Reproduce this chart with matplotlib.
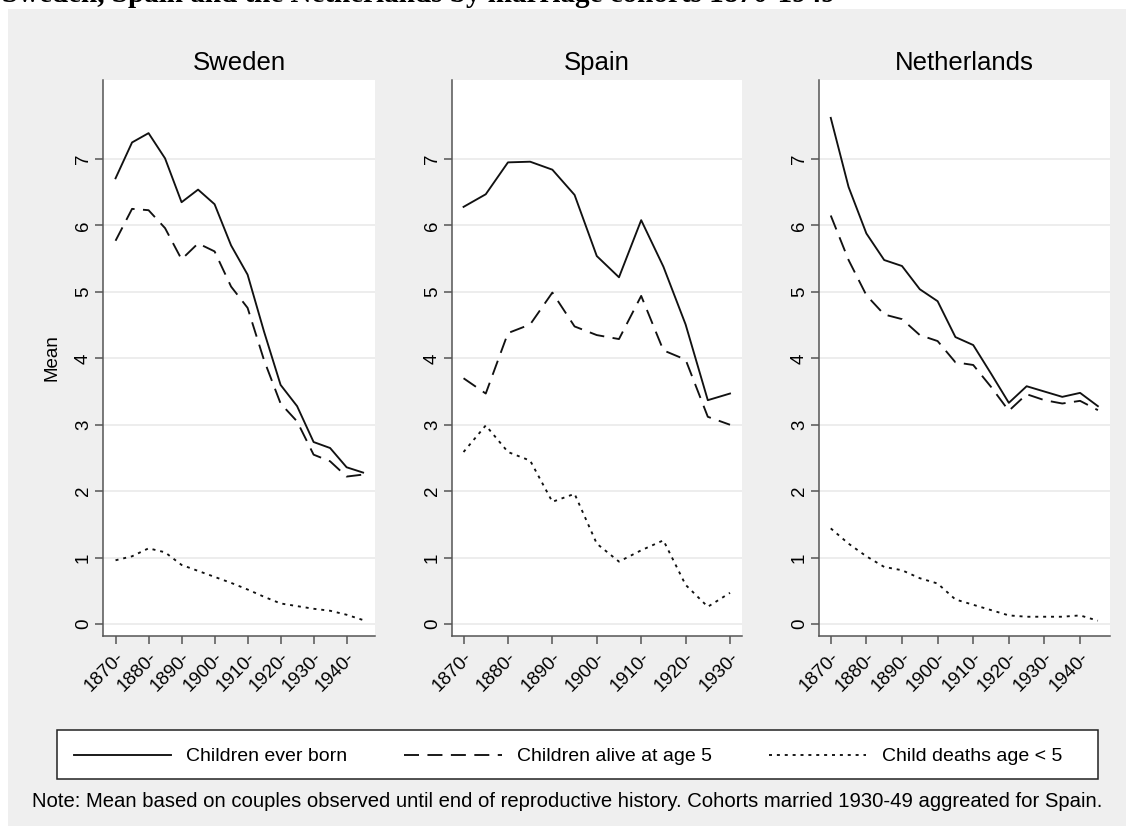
import matplotlib
matplotlib.use("Agg")
import matplotlib.pyplot as plt
from matplotlib.patches import Rectangle
from matplotlib.lines import Line2D

plt.rcParams['font.family'] = ['Liberation Sans', 'DejaVu Sans']

# ---------------- data ----------------
sweden_years = [1870, 1875, 1880, 1885, 1890, 1895, 1900, 1905, 1910, 1915, 1920, 1925, 1930, 1935, 1940, 1945]
sweden_born  = [6.71, 7.25, 7.39, 7.01, 6.35, 6.54, 6.32, 5.70, 5.26, 4.40, 3.60, 3.28, 2.74, 2.65, 2.36, 2.28]
sweden_alive = [5.77, 6.25, 6.23, 5.96, 5.49, 5.73, 5.61, 5.08, 4.76, 3.97, 3.32, 3.05, 2.55, 2.45, 2.22, 2.25]
sweden_death = [0.96, 1.02, 1.14, 1.08, 0.89, 0.80, 0.71, 0.62, 0.52, 0.41, 0.31, 0.27, 0.23, 0.20, 0.14, 0.06]

spain_years = [1870, 1875, 1880, 1885, 1890, 1895, 1900, 1905, 1910, 1915, 1920, 1925, 1930]
spain_born  = [6.28, 6.47, 6.95, 6.96, 6.84, 6.46, 5.54, 5.22, 6.08, 5.38, 4.51, 3.37, 3.47]
spain_alive = [3.70, 3.47, 4.38, 4.51, 4.99, 4.48, 4.35, 4.29, 4.94, 4.12, 3.98, 3.12, 3.00]
spain_death = [2.59, 2.99, 2.59, 2.46, 1.84, 1.96, 1.21, 0.94, 1.11, 1.26, 0.59, 0.26, 0.47]

neth_years = [1870, 1875, 1880, 1885, 1890, 1895, 1900, 1905, 1910, 1915, 1920, 1925, 1930, 1935, 1940, 1945]
neth_born  = [7.62, 6.58, 5.88, 5.48, 5.39, 5.04, 4.86, 4.32, 4.20, 3.77, 3.33, 3.58, 3.50, 3.42, 3.48, 3.28]
neth_alive = [6.15, 5.48, 4.95, 4.66, 4.59, 4.35, 4.26, 3.94, 3.90, 3.57, 3.21, 3.46, 3.37, 3.32, 3.36, 3.22]
neth_death = [1.44, 1.21, 1.02, 0.86, 0.81, 0.69, 0.61, 0.37, 0.29, 0.21, 0.13, 0.11, 0.11, 0.11, 0.13, 0.05]

countries = ["Sweden", "Spain", "Netherlands"]
tick_years_long = [1870, 1880, 1890, 1900, 1910, 1920, 1930, 1940]
tick_years_spain = [1870, 1880, 1890, 1900, 1910, 1920, 1930]
y_ticks = [0, 1, 2, 3, 4, 5, 6, 7]
series_labels = ["Children ever born", "Children alive at age 5", "Child deaths age < 5"]
note = ("Note: Mean based on couples observed until end of reproductive history. "
        "Cohorts married 1930-49 aggreated for Spain.")
top_title = "Sweden, Spain and the Netherlands by marriage cohorts 1870-1949"

# ---------------- layout helpers ----------------
W, H = 1135, 830
fig = plt.figure(figsize=(W / 100, H / 100), dpi=100)
fig.patch.set_facecolor("white")

# gray graph region
fig.patches.append(Rectangle((8 / W, 1 - 826 / H), (1126 - 8) / W, (826 - 9) / H,
                             transform=fig.transFigure, facecolor="#efefef",
                             edgecolor="none", zorder=-10))

def px_axes(left, right, top, bottom):
    return fig.add_axes([left / W, 1 - bottom / H, (right - left) / W, (bottom - top) / H])

panels = [
    (px_axes(103, 375, 80, 636), sweden_years, sweden_born, sweden_alive, sweden_death,
     tick_years_long, (1866.2, 1948.6)),
    (px_axes(452, 742, 80, 636), spain_years, spain_born, spain_alive, spain_death,
     tick_years_spain, (1867.4, 1932.7)),
    (px_axes(819, 1110, 80, 636), neth_years, neth_born, neth_alive, neth_death,
     tick_years_long, (1866.7, 1948.4)),
]

LW = 1.35
solid_style = "-"
dash_style = (0, (8, 4.5))
dot_style = (0, (1.6, 2.6))
line_col = "#111111"
spine_col = "#555555"
TICK_FS = 13.5

for i, (ax, yrs, born, alive, death, ticks, xl) in enumerate(panels):
    ax.set_facecolor("white")
    ax.plot(yrs, born, color=line_col, lw=LW, linestyle=solid_style)
    ax.plot(yrs, alive, color=line_col, lw=LW, linestyle=dash_style)
    ax.plot(yrs, death, color=line_col, lw=LW, linestyle=dot_style)
    ax.set_xlim(*xl)
    ax.set_ylim(-0.18, 8.19)
    ax.set_yticks(y_ticks)
    ax.set_yticklabels([str(t) for t in y_ticks], rotation=90, va="center", fontsize=TICK_FS)
    ax.set_xticks(ticks)
    ax.set_xticklabels([f"{t}-" for t in ticks], rotation=45, ha="right",
                       rotation_mode="anchor", fontsize=TICK_FS)
    ax.grid(axis="y", color="#e8e8e8", lw=1.1)
    ax.set_axisbelow(True)
    for s in ("top", "right"):
        ax.spines[s].set_visible(False)
    for s in ("left", "bottom"):
        ax.spines[s].set_color(spine_col)
        ax.spines[s].set_linewidth(1.1)
    ax.tick_params(axis="both", direction="out", length=6, width=1.1, color=spine_col,
                   labelcolor="black")
    ax.tick_params(axis="y", pad=2)
    ax.tick_params(axis="x", pad=3)
    ax.set_title(countries[i], fontsize=18.5, pad=7)
    if i == 0:
        ax.set_ylabel("Mean", fontsize=13.5)
        ax.yaxis.set_label_coords(-0.158, 0.5)

# legend: frame drawn separately, entries laid out by the legend
fig.patches.append(Rectangle((57 / W, 1 - 779 / H), (1098 - 57) / W, (779 - 730) / H,
                             transform=fig.transFigure, facecolor="white",
                             edgecolor="#222222", lw=1.1, zorder=1))
handles = [Line2D([], [], color=line_col, lw=LW, linestyle=solid_style),
           Line2D([], [], color=line_col, lw=LW, linestyle=dash_style),
           Line2D([], [], color=line_col, lw=LW, linestyle=dot_style)]
leg = fig.legend(handles, series_labels, ncol=3, mode="expand",
                 bbox_to_anchor=(60 / W, 1 - 779 / H, (1076 - 60) / W, (779 - 730) / H),
                 loc="lower left", fontsize=14, frameon=False,
                 handlelength=5.0, handletextpad=0.8, borderaxespad=0, borderpad=0.7)
leg.set_zorder(2)

fig.text(32 / W, 1 - 801 / H, note, fontsize=14.6, va="center", ha="left")

# cropped top title (only its lower part is visible in the reference)
fig.text(2 / W, 1 - 1.5 / H, top_title, fontsize=21, fontweight="bold",
         family=["Liberation Serif", "DejaVu Serif"], va="baseline", ha="left")

fig.savefig("out.png", dpi=100)
